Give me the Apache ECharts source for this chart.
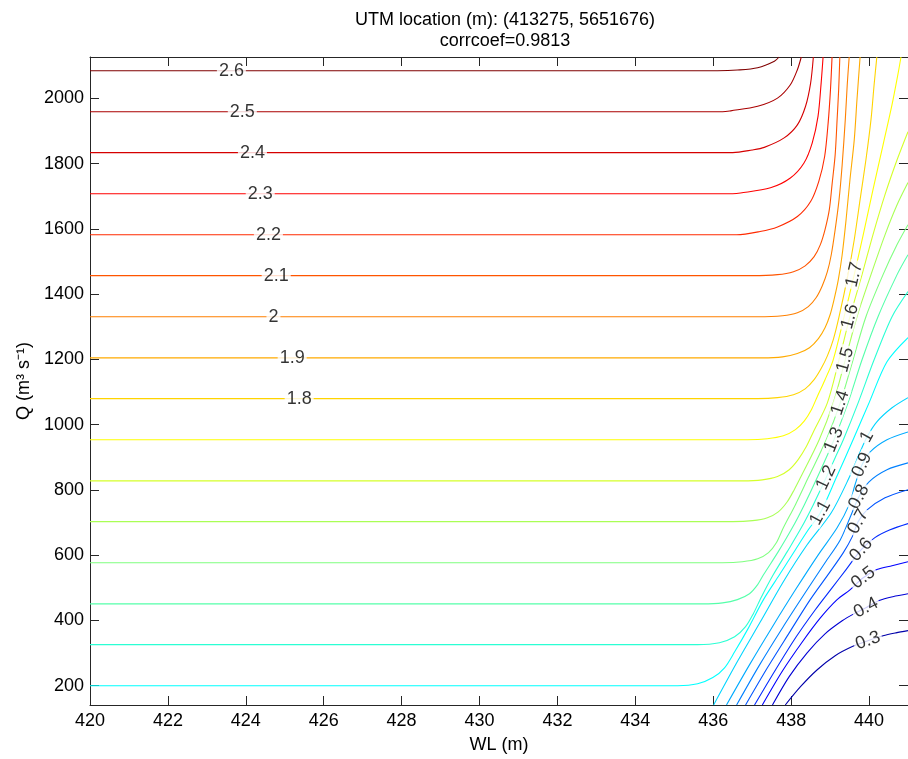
<!DOCTYPE html>
<html>
<head>
<meta charset="utf-8">
<script src="https://cdn.jsdelivr.net/npm/echarts@6/dist/echarts.min.js"></script>
<style>html,body{margin:0;padding:0;background:#fff}#c{width:908px;height:759px}</style>
</head>
<body>
<div id="c"></div>
<script>
// ---------- data ----------
const levels = [0.3,0.4,0.5,0.6,0.7,0.8,0.9,1.0,1.1,1.2,1.3,1.4,1.5,1.6,1.7,1.8,1.9,2.0,2.1,2.2,2.3,2.4,2.5,2.6];

const c03 = [[437.85,141],[438.24,197],[438.67,249],[439.13,292],[439.57,320],[439.97,338],[440.36,353],[440.69,362],[441,369]];
const c04 = [[437.52,141],[437.95,228],[438.41,301],[438.87,359],[439.31,399],[439.62,421],[439.92,439],[440.26,461],[440.61,473],[441,482]];
const c05 = [[437.26,141],[437.78,246],[438.29,335],[438.75,408],[439.18,464],[439.51,494],[439.85,531],[440.2,556],[440.59,568],[441,580]];
const c06 = [[437.06,141],[437.6,249],[438.13,350],[438.62,433],[439.05,500],[439.41,556],[439.8,617],[440.15,654],[440.54,678],[441,697]];
const c07 = [[436.83,141],[437.39,255],[437.95,362],[438.49,464],[438.98,546],[439.34,608],[439.57,657],[439.72,703],[439.95,739],[440.41,776],[441,801]];
const c08 = [[436.6,141],[437.19,264],[437.78,378],[438.36,485],[438.87,577],[439.26,647],[439.51,715],[439.74,779],[440,825],[440.46,862],[441,883]];
const c09 = [[436.34,141],[436.93,264],[437.52,381],[438.11,494],[438.7,602],[439.18,684],[439.49,755],[439.64,816],[439.82,877],[440.03,917],[440.46,954],[441,978]];
const c10 = [[436.01,141],[436.62,274],[437.21,396],[437.8,519],[438.41,632],[439.03,730],[439.49,838],[439.74,908],[439.95,963],[440.2,1009],[440.59,1052],[441,1083]];
const c11 = [[420,200],[435.09,200],[435.6,206],[435.99,225],[436.29,255],[436.55,304],[436.88,372],[437.29,464],[437.7,540],[438.11,617],[438.44,678],[438.75,730],[439.16,838],[439.59,954],[440,1067],[440.46,1193],[441,1267]];
const c12 = [[420,326],[435.6,326],[436.16,332],[436.55,350],[436.83,381],[437.03,421],[437.24,473],[437.54,540],[437.9,611],[438.26,684],[438.57,755],[438.9,838],[439.13,899],[439.34,954],[439.72,1067],[440.13,1199],[440.59,1331],[441,1408]];
const c13 = [[420,451],[435.73,451],[436.24,454],[436.62,464],[436.93,482],[437.14,510],[437.29,540],[437.67,611],[438.03,684],[438.34,755],[438.67,838],[439.1,954],[439.46,1067],[439.82,1199],[440.23,1331],[440.72,1460],[441,1521]];
const c14 = [[420,577],[436.24,577],[436.75,580],[437.14,589],[437.42,608],[437.62,638],[437.8,684],[438.11,755],[438.44,838],[438.9,954],[439.26,1067],[439.59,1199],[439.92,1331],[440.36,1460],[440.72,1552],[441,1613]];
const c15 = [[420,703],[436.5,703],[437.01,706],[437.39,715],[437.67,733],[437.9,764],[438.08,801],[438.24,838],[438.72,954],[439.08,1067],[439.39,1199],[439.69,1331],[440.05,1460],[440.41,1582],[440.72,1674],[441,1742]];
const c16 = [[420,828],[436.75,828],[437.26,831],[437.65,841],[437.95,862],[438.18,893],[438.39,933],[438.57,978],[438.93,1067],[439.23,1199],[439.51,1331],[439.82,1460],[440.1,1582],[440.41,1705],[440.72,1812],[441,1898]];
const c17 = [[420,954],[436.88,954],[437.39,957],[437.8,966],[438.11,985],[438.34,1012],[438.52,1046],[438.67,1086],[438.87,1138],[439.08,1199],[439.36,1331],[439.62,1460],[439.85,1582],[440.1,1720],[440.36,1858],[440.59,1981],[440.74,2073],[440.82,2127]];
const c18 = [[420,1080],[437.14,1080],[437.65,1083],[438.06,1092],[438.36,1110],[438.59,1138],[438.77,1172],[438.93,1211],[439.08,1260],[439.23,1331],[439.46,1460],[439.62,1567],[439.77,1690],[439.92,1812],[440.05,1935],[440.13,2042],[440.2,2127]];
const c19 = [[420,1205],[437.26,1205],[437.78,1208],[438.16,1218],[438.47,1236],[438.7,1264],[438.87,1297],[439,1337],[439.1,1383],[439.21,1444],[439.31,1521],[439.41,1628],[439.51,1751],[439.62,1873],[439.69,1996],[439.77,2127]];
const c20 = [[420,1331],[437.14,1331],[437.78,1334],[438.16,1343],[438.44,1362],[438.64,1389],[438.8,1426],[438.93,1469],[439.03,1521],[439.13,1598],[439.23,1690],[439.31,1797],[439.39,1935],[439.44,2042],[439.49,2127]];
const c21 = [[420,1457],[437.01,1457],[437.65,1460],[438.06,1469],[438.36,1487],[438.59,1515],[438.75,1552],[438.87,1598],[438.98,1659],[439.05,1736],[439.13,1827],[439.18,1935],[439.22,2027],[439.25,2127]];
const c22 = [[420,1582],[436.6,1582],[437.2,1592],[437.65,1606],[438.16,1638],[438.5,1684],[438.71,1746],[438.86,1822],[438.95,1925],[439.01,2027],[439.05,2127]];
const c23 = [[420,1708],[436.5,1708],[436.7,1710],[437.47,1726],[437.98,1756],[438.33,1802],[438.54,1863],[438.69,1945],[438.77,2047],[438.82,2127]];
const c24 = [[420,1834],[436.5,1834],[437.0,1842],[437.31,1850],[437.82,1879],[438.16,1919],[438.37,1976],[438.5,2047],[438.57,2127]];
const c25 = [[420,1959],[436.24,1959],[436.45,1962],[437.14,1976],[437.65,2001],[437.98,2042],[438.16,2088],[438.26,2127]];
const c26 = [[420,2085],[436.11,2085],[436.62,2087],[437.14,2094],[437.57,2114],[437.69,2127]];

const curves = [c03,c04,c05,c06,c07,c08,c09,c10,c11,c12,c13,c14,c15,c16,c17,c18,c19,c20,c21,c22,c23,c24,c25,c26];

// contour labels: [level, WL, Q]
const contourLabels = [
  [2.6,423.63,2085],[2.5,423.91,1959],[2.4,424.17,1834],[2.3,424.37,1708],[2.2,424.58,1582],
  [2.1,424.78,1457],[2.0,424.71,1331],[1.9,425.19,1205],[1.8,425.37,1080],
  [1.7,439.62,1460],[1.6,439.51,1331],[1.5,439.39,1199],[1.4,439.26,1067],[1.3,439.1,954],
  [1.2,438.9,838],[1.1,438.75,730],[1.0,439.95,963],[0.9,439.82,877],[0.8,439.74,779],
  [0.7,439.72,703],[0.6,439.8,617],[0.5,439.85,531],[0.4,439.92,439],[0.3,439.97,338]
];

const xTicks = [420,422,424,426,428,430,432,434,436,438,440];
const yTicks = [200,400,600,800,1000,1200,1400,1600,1800,2000];
const xRange = [420,441];
const yRange = [141,2127];
const colorLimits = [0.2,2.6];
const titleText = 'UTM location (m): (413275, 5651676)\ncorrcoef=0.9813';
const xName = 'WL (m)';
const yName = 'Q (m\u00B3 s\u207B\u00B9)';

// ---------- rendering ----------
const FONT = "'Liberation Sans', Arial, Helvetica, sans-serif";
const AX = '#262626';
function jet(v){
  const t = (v - colorLimits[0]) / (colorLimits[1] - colorLimits[0]);
  const f = x => Math.max(0, Math.min(1, x));
  const r = f(1.5 - Math.abs(4*t - 3)), g = f(1.5 - Math.abs(4*t - 2)), b = f(1.5 - Math.abs(4*t - 1));
  return 'rgb(' + Math.round(r*255) + ',' + Math.round(g*255) + ',' + Math.round(b*255) + ')';
}

const chart = echarts.init(document.getElementById('c'), null, {renderer:'canvas'});

function axisCommon(){
  return {
    type:'value', scale:false,
    axisLine:{show:true, onZero:false, lineStyle:{color:AX, width:1}},
    splitLine:{show:false},
  };
}

const lineSeries = levels.map((lv,i)=>({
  type:'line', name:String(lv), data:curves[i], showSymbol:false, symbol:'none',
  smooth:0.3, clip:true, silent:true, animation:false, z:2,
  lineStyle:{color:jet(lv), width:1.1},
  xAxisIndex:0, yAxisIndex:0
}));

const option = {
  animation:false,
  backgroundColor:'#fff',
  title:{
    text:titleText, left:500, top:5, textAlign:'center',
    textStyle:{fontFamily:FONT, fontSize:18, fontWeight:'normal', color:'#000', lineHeight:21}
  },
  grid:{left:90, top:57, width:821, height:648},
  xAxis:[
    Object.assign(axisCommon(), {
      position:'bottom', min:xRange[0], max:xRange[1],
      axisTick:{show:true, inside:true, length:9, customValues:xTicks, lineStyle:{color:AX}},
      axisLabel:{show:true, customValues:xTicks, margin:7, fontFamily:FONT, fontSize:18, color:'#000',
                 formatter: v => String(v)},
      name:xName, nameLocation:'middle', nameGap:31,
      nameTextStyle:{fontFamily:FONT, fontSize:18, color:'#000'}
    }),
    Object.assign(axisCommon(), {
      position:'top', min:xRange[0], max:xRange[1],
      axisTick:{show:true, inside:true, length:9, customValues:xTicks, lineStyle:{color:AX}},
      axisLabel:{show:false}
    })
  ],
  yAxis:[
    Object.assign(axisCommon(), {
      position:'left', min:yRange[0], max:yRange[1],
      axisTick:{show:true, inside:true, length:9, customValues:yTicks, lineStyle:{color:AX}},
      axisLabel:{show:true, customValues:yTicks, margin:6, fontFamily:FONT, fontSize:18, color:'#000',
                 formatter: v => String(v)},
      name:yName, nameLocation:'middle', nameGap:41, nameRotate:90,
      nameTextStyle:{fontFamily:FONT, fontSize:18, color:'#000'}
    }),
    Object.assign(axisCommon(), {
      position:'right', min:yRange[0], max:yRange[1],
      axisTick:{show:true, inside:true, length:9, customValues:yTicks, lineStyle:{color:AX}},
      axisLabel:{show:false}
    })
  ],
  series: lineSeries
};
chart.setOption(option);

// label angles follow the local direction of each contour in pixel space
function labelAngle(lv, x, y){
  const idx = levels.indexOf(lv);
  const pts = curves[idx].map(p => chart.convertToPixel({seriesIndex:idx}, p));
  const P = chart.convertToPixel({seriesIndex:idx}, [x,y]);
  let best = 0, bd = Infinity;
  pts.forEach((q,k)=>{ const d=(q[0]-P[0])**2+(q[1]-P[1])**2; if(d<bd){bd=d;best=k;} });
  const a = pts[Math.max(0,best-1)], b = pts[Math.min(pts.length-1,best+1)];
  let ang = Math.atan2(-(b[1]-a[1]), b[0]-a[0]) * 180 / Math.PI;
  if (ang > 90) ang -= 180;
  if (ang < -90) ang += 180;
  return ang;
}

const labelData = contourLabels.map(([lv,x,y]) => ({
  name:String(lv), value:[x,y],
  label:{rotate: labelAngle(lv,x,y)}
}));

chart.setOption({
  series: lineSeries.concat([{
    type:'scatter', data:labelData, symbolSize:1, silent:true, animation:false, z:10,
    itemStyle:{color:'rgba(0,0,0,0)'},
    label:{show:true, position:'inside', formatter:'{b}', fontFamily:FONT, fontSize:18, color:'#000',
           backgroundColor:'#fff', padding:[0,2,0,2], lineHeight:14},
    xAxisIndex:0, yAxisIndex:0
  }])
});
</script>
</body>
</html>
